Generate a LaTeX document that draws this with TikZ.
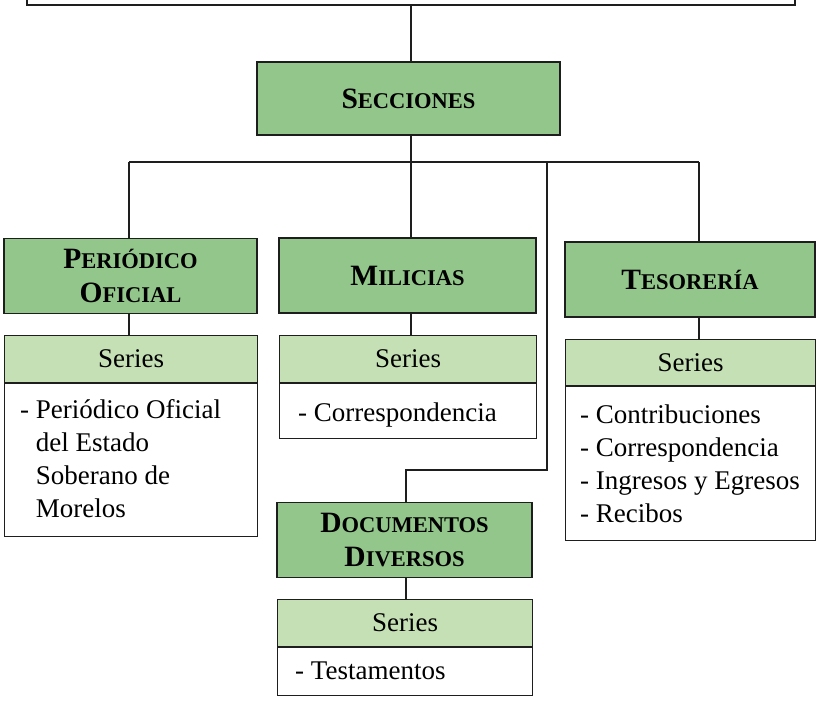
\documentclass[tikz,border=0pt]{standalone}
\usepackage{fontspec}
\setmainfont{Liberation Serif}
\definecolor{darkg}{HTML}{93C68A}
\definecolor{lightg}{HTML}{C6E0B5}
\definecolor{edge}{HTML}{1E1E1E}
\newcommand\myscap[2]{{\fontsize{29.5}{34}\selectfont #1}{\fontsize{22.5}{34}\selectfont #2}}
\tikzset{
  lw/.style={line width=1.3pt, draw=edge},
  sect/.style={lw, fill=darkg, rectangle, inner sep=0pt, align=center, font=\bfseries\fontsize{29.5}{34}\selectfont},
  hdr/.style={lw, fill=lightg, rectangle, inner sep=0pt, font=\fontsize{27}{33}\selectfont},
  body/.style={lw, fill=white, rectangle, inner sep=0pt},
  btext/.style={anchor=base west, inner sep=0pt, align=left, font=\fontsize{27}{33}\selectfont},
  conn/.style={lw},
}
\begin{document}
\begin{tikzpicture}[x=1pt,y=-1pt]
\useasboundingbox (0,0) rectangle (821,704);
% top box (only lower part visible)
\node[lw, rectangle, minimum width=768pt, minimum height=40pt, inner sep=0pt] (top) at (411,-15) {};
% Secciones
\node[sect, minimum width=303pt, minimum height=73pt] (sec) at (408.5,98.5) {\myscap{S}{ECCIONES}};
% junctions
\coordinate (jtop) at (411,5);
\coordinate (jc) at (411,162);
\coordinate (jl) at (129,162);
\coordinate (jr) at (699,162);
\coordinate (jd) at (547,162);
\coordinate (jd1) at (547,470);
\coordinate (jd2) at (406,470);
% sections
\node[sect, minimum width=253pt, minimum height=75pt] (per) at (130.5,276) {\myscap{P}{ERIÓDICO}\\\myscap{O}{FICIAL}};
\node[sect, minimum width=257pt, minimum height=75pt] (mil) at (407.5,275.5) {\myscap{M}{ILICIAS}};
\node[sect, minimum width=250pt, minimum height=75pt] (tes) at (690,279.5) {\myscap{T}{ESORERÍA}};
\node[sect, minimum width=255pt, minimum height=75pt] (doc) at (404.5,540) {\myscap{D}{OCUMENTOS}\\\myscap{D}{IVERSOS}};
% bodies (multi-line text: base anchor is the last line's baseline)
\node[body, minimum width=253pt, minimum height=153pt, anchor=north west] (perb) at (4,383) {};
\node[btext] (perbt) at ([xshift=16pt, yshift=-134pt]perb.north west) {- Periódico Oficial\\\phantom{- }del Estado\\\phantom{- }Soberano de\\\phantom{- }Morelos};
\node[body, minimum width=257pt, minimum height=55pt, anchor=north west] (milb) at (279,383) {};
\node[btext] (milbt) at ([xshift=19pt, yshift=-38pt]milb.north west) {- Correspondencia};
\node[body, minimum width=250pt, minimum height=154pt, anchor=north west] (tesb) at (565,386) {};
\node[btext] (tesbt) at ([xshift=15pt, yshift=-136pt]tesb.north west) {- Contribuciones\\- Correspondencia\\- Ingresos y Egresos\\- Recibos};
\node[body, minimum width=255pt, minimum height=48pt, anchor=north west] (docb) at (277,647) {};
\node[btext] (docbt) at ([xshift=18pt, yshift=-32pt]docb.north west) {- Testamentos};
% headers
\node[hdr, minimum width=253pt, minimum height=47pt, anchor=south west] (perh) at (perb.north west) {Series};
\node[hdr, minimum width=257pt, minimum height=47pt, anchor=south west] (milh) at (milb.north west) {Series};
\node[hdr, minimum width=250pt, minimum height=46pt, anchor=south west] (tesh) at (tesb.north west) {Series};
\node[hdr, minimum width=255pt, minimum height=47pt, anchor=south west] (doch) at (docb.north west) {Series};
% connectors
\draw[conn] (jtop) -- (sec.north -| jtop);
\draw[conn] (sec.south -| jc) -- (jc);
\draw[conn] (jl) -- (jr);
\draw[conn] (jl) -- (per.north -| jl);
\draw[conn] (jc) -- (mil.north -| jc);
\draw[conn] (jr) -- (tes.north -| jr);
\draw[conn] (jd) -- (jd1) -- (jd2) -- (doc.north -| jd2);
\draw[conn] (per.south -| jl) -- (perh.north -| jl);
\draw[conn] (mil.south -| jc) -- (milh.north -| jc);
\draw[conn] (tes.south -| jr) -- (tesh.north -| jr);
\draw[conn] (doc.south -| jd2) -- (doch.north -| jd2);
\end{tikzpicture}
\end{document}
